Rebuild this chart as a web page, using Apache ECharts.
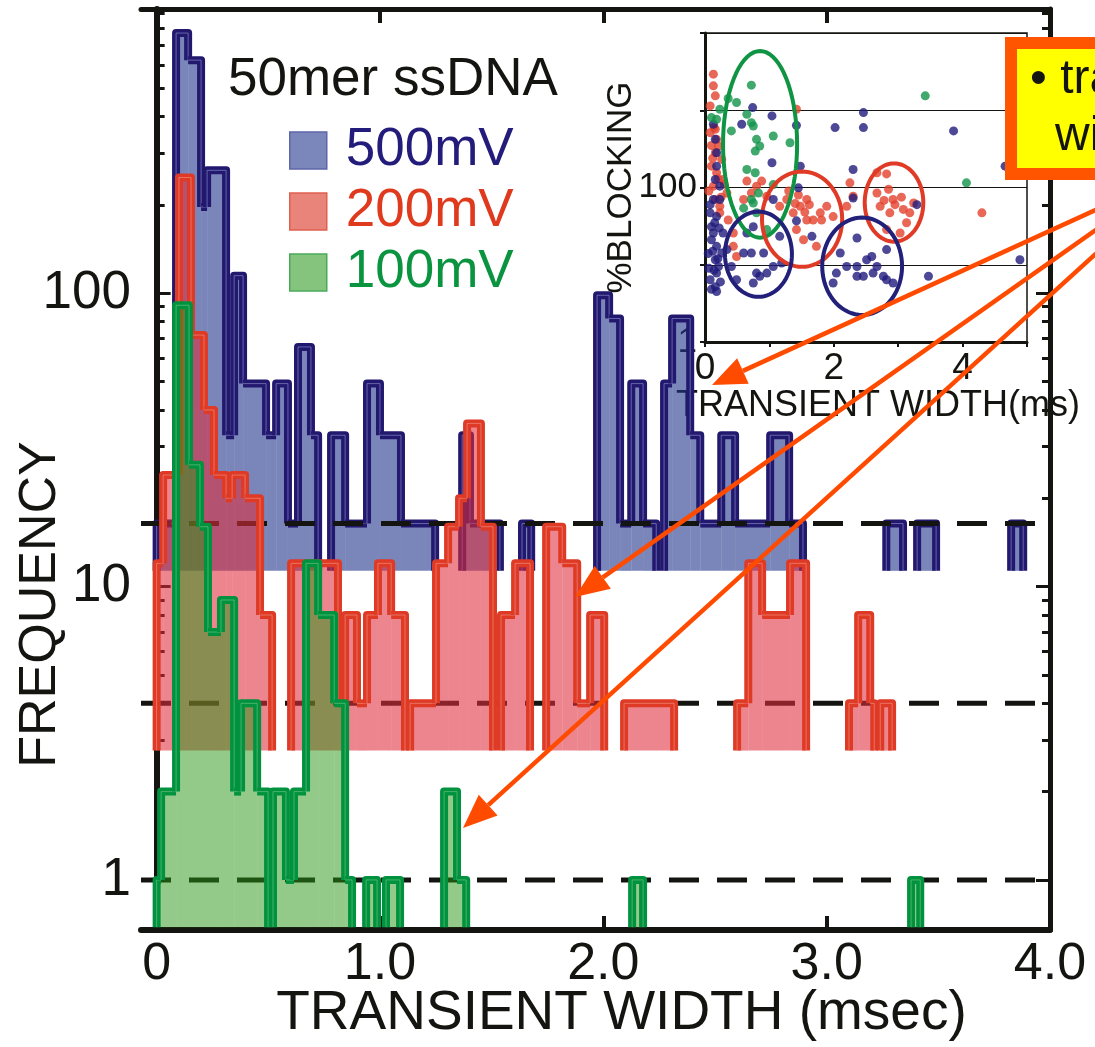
<!DOCTYPE html>
<html>
<head>
<meta charset="utf-8">
<title>50mer ssDNA transient width</title>
<script src="https://cdn.jsdelivr.net/npm/echarts@6/dist/echarts.min.js"></script>
<style>
html, body { margin: 0; padding: 0; background: #fff; }
#main { width: 1095px; height: 1047px; }
</style>
</head>
<body>
<div id="main"></div>
<script>
// histogram bin edges (msec) and event counts, one pair per voltage
var blueEdges = [0.00, 0.087, 0.141, 0.199, 0.226, 0.311, 0.347, 0.387, 0.490, 0.535, 0.588, 0.633, 0.691, 0.723, 0.781, 0.844, 0.942, 1.000, 1.094, 1.247, 1.368, 1.403, 1.537, 1.636, 1.677, 1.972, 2.026, 2.075, 2.125, 2.178, 2.237, 2.272, 2.308, 2.389, 2.434, 2.528, 2.590, 2.747, 2.832, 2.894, 3.267, 3.342, 3.405, 3.490, 3.826, 3.880];
var blueCounts = [1, 47, 38, 12, 16, 2, 7, 3, 2, 3, 1, 4, 2, 0, 2, 1, 3, 2, 1, 0, 2, 1, 0, 1, 0, 6, 5, 1, 3, 1, 0, 3, 5, 2, 1, 2, 1, 2, 1, 0, 1, 0, 1, 0, 1];

var redEdges = [0.00, 0.029, 0.100, 0.154, 0.212, 0.257, 0.311, 0.338, 0.396, 0.463, 0.517, 0.602, 0.812, 0.844, 0.897, 0.942, 0.991, 1.050, 1.112, 1.135, 1.251, 1.305, 1.354, 1.390, 1.452, 1.506, 1.542, 1.605, 1.672, 1.744, 1.816, 1.883, 1.941, 2.004, 2.093, 2.317, 2.599, 2.649, 2.711, 2.836, 2.908, 3.100, 3.141, 3.195, 3.213, 3.240, 3.293];
var redCounts = [3, 6, 62, 18, 10, 6, 5, 6, 5, 2, 0, 3, 1, 2, 1, 2, 3, 2, 0, 1, 3, 4, 5, 9, 4, 0, 2, 3, 0, 4, 3, 1, 2, 0, 1, 0, 1, 3, 2, 3, 0, 1, 2, 1, 0, 1];

var greenEdges = [0.00, 0.020, 0.087, 0.145, 0.194, 0.230, 0.288, 0.347, 0.378, 0.450, 0.499, 0.521, 0.579, 0.615, 0.669, 0.723, 0.795, 0.844, 0.875, 0.938, 0.987, 1.027, 1.090, 1.287, 1.345, 1.386, 2.129, 2.178, 3.378, 3.419];
var greenCounts = [1, 2, 91, 26, 16, 7, 9, 2, 4, 2, 0, 2, 1, 2, 12, 8, 4, 1, 0, 1, 0, 1, 0, 2, 1, 0, 1, 0, 1];

// vertical offset of each histogram (500mV, 200mV, 100mV); dashed line = 1 count
var offsets = [16.4, 4, 1];
var baseCount = 0.69;

var xTicks = [0, 1, 2, 3, 4];
var yMajor = [1, 10, 100];
var yMinor = [2, 3, 4, 5, 6, 7, 8, 9, 20, 30, 40, 50, 60, 70, 80, 90, 200, 300, 400, 500, 600, 700, 800, 900];

// inset: %blocking vs transient width (ms)
var insetBlue = [[0.13, 658], [0.16, 420], [0.18, 282], [0.18, 189], [0.16, 127], [0.23, 104], [0.13, 70], [0.18, 42], [0.13, 25.8], [0.18, 17.3], [0.16, 11.6], [0.18, 7.8], [0.16, 5.2], [0.28, 25.8], [0.34, 15.7], [0.41, 9.5], [0.49, 6.4], [0.65, 25.8], [0.75, 31], [0.60, 14.2], [0.72, 14.2], [0.91, 14.2], [0.80, 7.8], [0.96, 7.8], [1.06, 9.5], [1.19, 10.5], [0.75, 5.8], [0.85, 7.1], [1.04, 844], [0.74, 1083], [0.57, 658], [1.04, 209], [1.42, 638], [1.48, 189], [1.45, 99], [1.42, 37], [1.66, 23.3], [1.06, 70], [1.16, 23.3], [2.02, 596], [2.46, 933], [2.46, 596], [2.30, 171], [2.30, 73], [2.36, 22.2], [2.10, 14.2], [2.20, 9.5], [2.36, 9.5], [2.51, 11.6], [2.59, 12.8], [2.67, 9.5], [2.82, 15.7], [2.77, 7.1], [2.04, 7.8], [1.99, 5.8], [2.36, 7.1], [2.46, 7.1], [2.61, 7.8], [2.82, 6.4], [2.92, 5.8], [3.47, 7.1], [3.86, 540], [4.66, 189], [4.89, 11.6], [3.29, 60], [0.08, 47], [0.10, 21.1], [0.21, 9.5], [0.08, 6.4], [0.26, 14.2], [0.10, 31], [0.23, 70], [0.12, 15], [0.20, 12], [0.06, 9], [0.14, 8.5], [0.24, 6], [0.10, 4.8], [0.18, 4.5], [0.05, 14], [0.22, 30], [0.08, 60], [0.15, 35]];
var insetRed = [[0.13, 2935], [0.13, 2070], [0.16, 1535], [1.42, 1030], [0.08, 513], [0.18, 420], [0.16, 282], [0.10, 189], [0.18, 155], [0.13, 104], [0.16, 70], [0.23, 47], [0.44, 17.3], [0.49, 12.8], [0.60, 70], [0.65, 121], [0.88, 121], [0.96, 77], [1.16, 57], [1.27, 70], [1.37, 47], [1.48, 57], [1.58, 70], [1.68, 38], [1.79, 47], [1.89, 57], [1.99, 42], [1.42, 28.5], [1.53, 21.1], [1.73, 17.3], [1.81, 38], [2.25, 115], [2.30, 77], [2.20, 57], [2.67, 155], [2.82, 150], [2.67, 85], [2.72, 57], [2.87, 47], [2.92, 70], [3.08, 52], [3.18, 47], [3.13, 35], [3.03, 25.8], [2.82, 28.5], [3.24, 63], [4.30, 47], [0.21, 344], [0.26, 231], [0.28, 127], [0.34, 85], [0.23, 57], [0.36, 38], [0.44, 25.8], [0.16, 567], [0.08, 1138], [0.72, 85], [0.80, 104], [1.58, 38], [1.30, 90], [1.45, 80], [1.62, 60], [1.40, 62], [1.55, 48], [2.85, 95], [2.95, 60], [3.05, 75], [2.78, 68], [0.10, 350], [0.12, 240], [0.20, 130], [0.06, 90], [0.25, 75], [0.30, 110], [0.14, 600]];
var insetGreen = [[0.72, 2113], [0.36, 1418], [0.49, 1258], [0.10, 803], [0.18, 764], [0.72, 691], [0.75, 626], [0.41, 540], [0.80, 420], [1.06, 464], [1.32, 380], [0.85, 344], [0.78, 296], [0.65, 171], [0.78, 155], [0.83, 85], [0.72, 70], [0.60, 54], [0.75, 63], [1.06, 109], [3.42, 1535], [4.06, 115], [0.80, 47], [0.96, 28.5], [0.23, 1030], [0.65, 887]];
// cluster outlines: [x0, x1, y0, y1]
var insetRings = [[0.28, 1.43, 22.4, 5840], [0.885, 2.13, 9.4, 161], [2.48, 3.39, 19.9, 205], [0.31, 1.35, 3.84, 48.8], [1.82, 3.06, 2.24, 40.8]];
var ringColors = ['#0f9443', '#df3b26', '#df3b26', '#23207a', '#23207a'];

var FONT = 'Liberation Sans, Arial, Helvetica, sans-serif';
var INK = '#141410';

function fillData(edges, counts, factor) {
    var out = [];
    for (var i = 0; i < counts.length; i++) {
        if (counts[i] > 0) out.push([edges[i], edges[i + 1], counts[i] * factor, baseCount * factor]);
    }
    return out;
}

function lineData(edges, counts, factor) {
    var base = baseCount * factor;
    var lv = counts.map(function (n) { return n > 0 ? n * factor : base; });
    var out = [];
    for (var i = 0; i < counts.length; i++) {
        if (counts[i] === 0) continue;
        var left = i > 0 ? lv[i - 1] : base;
        var right = i < counts.length - 1 ? lv[i + 1] : base;
        out.push([edges[i], edges[i + 1], lv[i], Math.min(left, lv[i]), Math.min(right, lv[i])]);
    }
    return out;
}

function histFill(name, edges, counts, factor, color, z) {
    return {
        name: name,
        type: 'custom',
        z: z,
        silent: true,
        itemStyle: { color: color },
        encode: { x: [0, 1], y: [2, 3] },
        data: fillData(edges, counts, factor),
        renderItem: function (params, api) {
            var p0 = api.coord([api.value(0), api.value(2)]);
            var p1 = api.coord([api.value(1), api.value(3)]);
            return {
                type: 'rect',
                shape: { x: p0[0], y: p0[1], width: p1[0] - p0[0], height: p1[1] - p0[1] },
                style: { fill: color }
            };
        }
    };
}

function histLine(name, edges, counts, factor, stroke, light, z) {
    return {
        name: name,
        type: 'custom',
        z: z,
        silent: true,
        encode: { x: [0, 1], y: [2, 3, 4] },
        data: lineData(edges, counts, factor),
        renderItem: function (params, api) {
            var pts = [
                api.coord([api.value(0), api.value(3)]),
                api.coord([api.value(0), api.value(2)]),
                api.coord([api.value(1), api.value(2)]),
                api.coord([api.value(1), api.value(4)])
            ];
            return {
                type: 'group',
                children: [
                    { type: 'polyline', shape: { points: pts }, style: { stroke: stroke, lineWidth: 8, fill: null, lineJoin: 'round' } },
                    { type: 'polyline', shape: { points: pts }, style: { stroke: light, lineWidth: 1, fill: null, opacity: 0.55 } }
                ]
            };
        }
    };
}

function dashLine(level) {
    return {
        type: 'line',
        z: 3,
        silent: true,
        symbol: 'none',
        data: [[-0.07, level], [3.96, level]],
        lineStyle: { color: INK, width: 5, type: [30, 18] }
    };
}

// log y axis, same range for all 4 frame axes
function yFrame(position, values, len, show) {
    return {
        type: 'log',
        gridIndex: 0,
        position: position,
        min: 0.675,
        max: 931,
        axisLine: { show: show, lineStyle: { color: INK, width: position === 'left' ? 6 : 5 } },
        axisTick: { inside: true, length: len, customValues: values, lineStyle: { color: INK, width: 3 } },
        axisLabel: { show: false },
        splitLine: { show: false }
    };
}

var chartDom = document.getElementById('main');
var myChart = echarts.init(chartDom);

var yLeft = yFrame('left', yMajor, 14, true);
yLeft.axisLabel = { show: true, customValues: yMajor, fontSize: 53, color: INK, fontFamily: FONT, margin: 10 };
yLeft.name = 'FREQUENCY';
yLeft.nameLocation = 'middle';
yLeft.nameGap = 74;
yLeft.nameMoveOverlap = false;
yLeft.nameTextStyle = { fontSize: 52, color: INK, fontFamily: FONT, padding: [0, 270, 0, 0] };

// arrows from the (cropped) callout
var arrows = [[1100, 208, 712, 385], [1100, 227, 575, 597], [1100, 250, 463, 828]];
var graphics = [];
arrows.forEach(function (a) {
    var dx = a[2] - a[0], dy = a[3] - a[1];
    var len = Math.sqrt(dx * dx + dy * dy);
    var ux = dx / len, uy = dy / len;
    var bx = a[2] - ux * 34, by = a[3] - uy * 34;
    graphics.push({ type: 'line', z: 100, shape: { x1: a[0], y1: a[1], x2: bx, y2: by }, style: { stroke: '#ff4b00', lineWidth: 4.5 } });
    graphics.push({ type: 'polygon', z: 100, shape: { points: [[a[2], a[3]], [bx - uy * 14, by + ux * 14], [bx + uy * 14, by - ux * 14]] }, style: { fill: '#ff4b00' } });
});
graphics.push({ type: 'rect', z: 101, shape: { x: 1011, y: 43, width: 130, height: 131 }, style: { fill: '#ffff00', stroke: '#ff5500', lineWidth: 12 } });
graphics.push({ type: 'text', z: 102, x: 1030, y: 80, style: { text: '• tra', font: '48px ' + FONT, fill: INK, verticalAlign: 'middle' } });
graphics.push({ type: 'text', z: 102, x: 1055, y: 137, style: { text: 'wi', font: '48px ' + FONT, fill: INK, verticalAlign: 'middle' } });

var option = {
    animation: false,
    backgroundColor: '#fff',
    title: {
        text: '50mer ssDNA',
        left: 228,
        top: 54,
        padding: 0,
        textStyle: { fontSize: 53, fontWeight: 'normal', color: INK, fontFamily: FONT }
    },
    legend: {
        orient: 'vertical',
        left: 289,
        top: 124,
        padding: 0,
        itemWidth: 37,
        itemHeight: 37,
        itemGap: 8,
        selectedMode: false,
        textStyle: { fontSize: 53, fontFamily: FONT, padding: [0, 0, 0, 14] },
        data: [
            { name: '500mV', icon: 'rect', itemStyle: { color: '#7b86bb', borderColor: '#5d66aa', borderWidth: 1.5 }, textStyle: { color: '#241c7a' } },
            { name: '200mV', icon: 'rect', itemStyle: { color: '#e9847a', borderColor: '#e0604f', borderWidth: 1.5 }, textStyle: { color: '#e03a1e' } },
            { name: '100mV', icon: 'rect', itemStyle: { color: '#84c47d', borderColor: '#4aaa5c', borderWidth: 1.5 }, textStyle: { color: '#0b9440' } }
        ]
    },
    grid: [
        { left: 141, top: 9, width: 909, height: 921, outerBoundsMode: 'none' },
        { left: 705, top: 33, width: 322, height: 309, show: true, backgroundColor: '#fff', borderColor: INK, borderWidth: 1.5, outerBoundsMode: 'none' }
    ],
    xAxis: [
        {
            type: 'value',
            gridIndex: 0,
            min: -0.07,
            max: 4.0,
            position: 'bottom',
            axisLine: { lineStyle: { color: INK, width: 6 } },
            axisTick: { inside: true, length: 14, customValues: xTicks, lineStyle: { color: INK, width: 4 } },
            axisLabel: {
                customValues: xTicks, fontSize: 52, color: INK, fontFamily: FONT, margin: 9,
                formatter: function (v) { return v === 0 ? '0' : v.toFixed(1); }
            },
            splitLine: { show: false },
            name: 'TRANSIENT WIDTH (msec)',
            nameLocation: 'middle',
            nameGap: 56,
            nameMoveOverlap: false,
            nameTextStyle: { fontSize: 55, color: INK, fontFamily: FONT, padding: [0, 0, 0, 52] }
        },
        {
            type: 'value',
            gridIndex: 0,
            min: -0.07,
            max: 4.0,
            position: 'top',
            axisLine: { lineStyle: { color: INK, width: 5 } },
            axisTick: { inside: true, length: 14, customValues: xTicks, lineStyle: { color: INK, width: 4 } },
            axisLabel: { show: false },
            splitLine: { show: false }
        },
        {
            type: 'value',
            gridIndex: 1,
            min: 0,
            max: 5,
            interval: 1,
            axisLine: { lineStyle: { color: INK, width: 3 } },
            axisTick: { length: 5, lineStyle: { color: INK, width: 2 } },
            axisLabel: { customValues: [0, 2, 4], fontSize: 37, color: INK, fontFamily: FONT, margin: 8 },
            splitLine: { show: false },
            name: 'TRANSIENT WIDTH(ms)',
            nameLocation: 'middle',
            nameGap: 46,
            nameMoveOverlap: false,
            nameTextStyle: { fontSize: 36, color: INK, fontFamily: FONT, padding: [0, 0, 0, 24] }
        }
    ],
    yAxis: [
        yLeft,
        yFrame('left', yMinor, 8, false),
        yFrame('right', yMajor, 14, true),
        yFrame('right', yMinor, 8, false),
        {
            type: 'log',
            gridIndex: 1,
            min: 1,
            max: 10000,
            axisLine: { show: true, lineStyle: { color: INK, width: 3 } },
            axisTick: { show: true, length: 5, lineStyle: { color: INK, width: 2 } },
            axisLabel: { customValues: [1, 100], fontSize: 35, color: INK, fontFamily: FONT, margin: 8 },
            splitLine: { show: true, lineStyle: { color: INK, width: 1 } },
            name: '%BLOCKING',
            nameLocation: 'middle',
            nameGap: 66,
            nameMoveOverlap: false,
            nameTextStyle: { fontSize: 35, color: INK, fontFamily: FONT }
        }
    ],
    series: [
        histFill('500mV', blueEdges, blueCounts, offsets[0], 'rgba(33,53,140,0.6)', 1),
        histLine('500mV outline', blueEdges, blueCounts, offsets[0], '#22196e', '#9aa0e0', 2),
        dashLine(offsets[0]),
        dashLine(offsets[1]),
        dashLine(offsets[2]),
        histFill('200mV', redEdges, redCounts, offsets[1], 'rgba(222,45,60,0.58)', 4),
        histLine('200mV outline', redEdges, redCounts, offsets[1], '#de3a26', '#f6a090', 5),
        histFill('100mV', greenEdges, greenCounts, offsets[2], 'rgba(40,150,20,0.5)', 6),
        histLine('100mV outline', greenEdges, greenCounts, offsets[2], '#00923e', '#80d090', 7),
        {
            type: 'scatter', xAxisIndex: 2, yAxisIndex: 4, symbolSize: 9, silent: true, z: 2,
            itemStyle: { color: '#e3412c' }, data: insetRed
        },
        {
            type: 'scatter', xAxisIndex: 2, yAxisIndex: 4, symbolSize: 9, silent: true, z: 2,
            itemStyle: { color: '#201c7c' }, data: insetBlue
        },
        {
            type: 'scatter', xAxisIndex: 2, yAxisIndex: 4, symbolSize: 9, silent: true, z: 2,
            itemStyle: { color: '#12944a' }, data: insetGreen
        },
        {
            type: 'custom', xAxisIndex: 2, yAxisIndex: 4, silent: true, z: 3,
            encode: { x: [0, 1], y: [2, 3] },
            data: insetRings,
            renderItem: function (params, api) {
                var a = api.coord([api.value(0), api.value(2)]);
                var b = api.coord([api.value(1), api.value(3)]);
                var cx = (a[0] + b[0]) / 2, cy = (a[1] + b[1]) / 2;
                var rx = Math.abs(b[0] - a[0]) / 2, ry = Math.abs(b[1] - a[1]) / 2;
                var pts = [];
                for (var k = 0; k < 72; k++) {
                    var t = k / 72 * Math.PI * 2;
                    pts.push([cx + rx * Math.cos(t), cy + ry * Math.sin(t)]);
                }
                return {
                    type: 'polygon',
                    shape: { points: pts },
                    style: { fill: null, stroke: ringColors[params.dataIndex], lineWidth: 4 }
                };
            }
        }
    ],
    graphic: graphics
};

option && myChart.setOption(option);
</script>
</body>
</html>
